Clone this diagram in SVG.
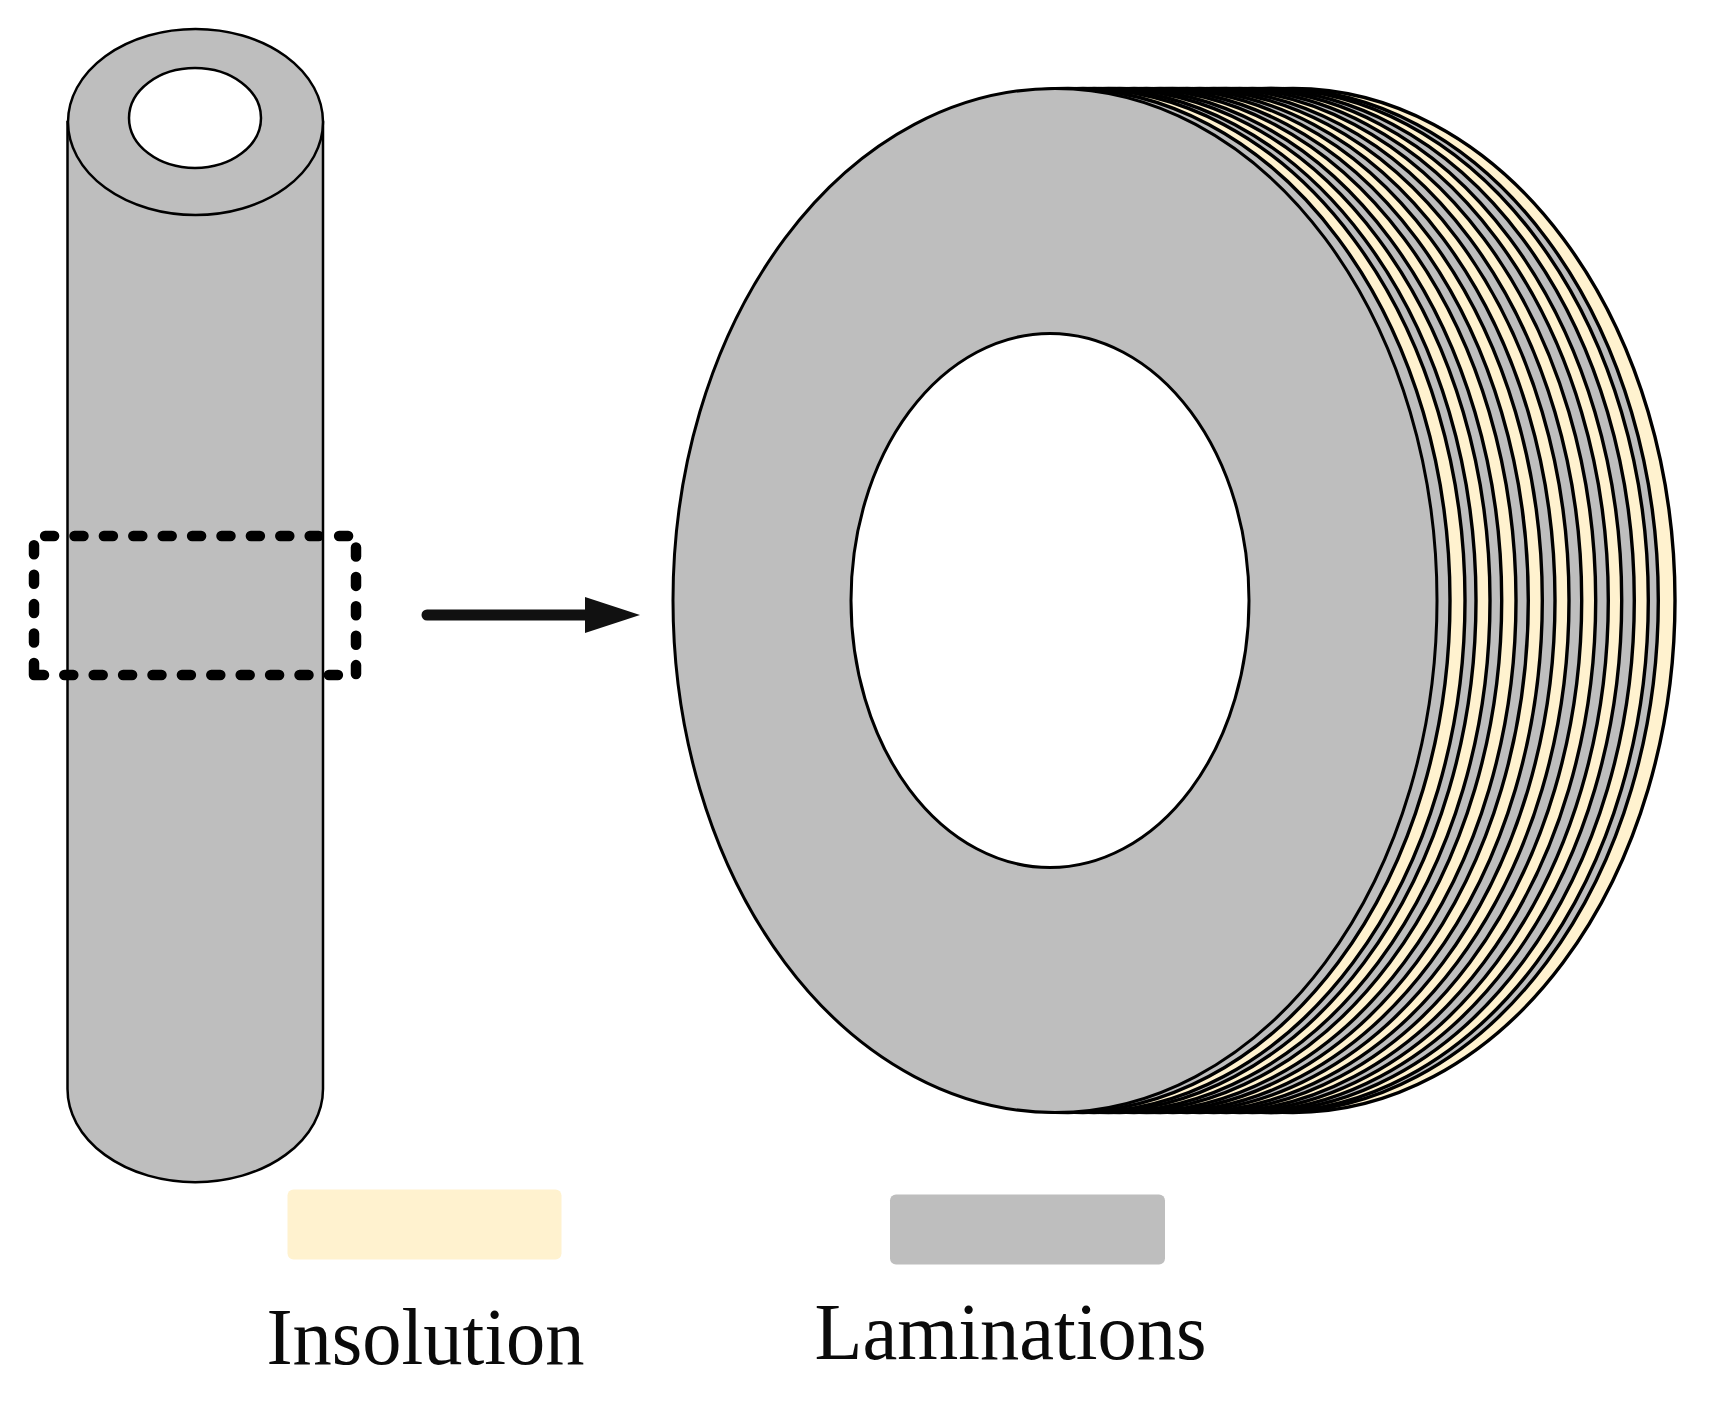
<svg xmlns="http://www.w3.org/2000/svg" width="1728" height="1410" viewBox="0 0 1728 1410">
<style>
.o{stroke:#000;stroke-width:3}
.r{stroke:#000;stroke-width:3.4}
.s{stroke:#000;stroke-width:2.5}
.g{fill:#bebebe}
.c{fill:#fff2cf}
.w{fill:#fff}
.d{fill:none;stroke:#000;stroke-width:10.5;stroke-linecap:round;stroke-dasharray:9 20.4}
.t{font-family:"Liberation Serif","Times New Roman",serif;font-size:80px;fill:#0a0a0a}
</style>
<rect width="1728" height="1410" fill="#fff"/>
<g id="tube">
<path class="s g" d="M67.5 122V1089A127.5 93 0 0 0 323 1089V122Z"/>
<ellipse class="s g" cx="195.5" cy="122" rx="127.5" ry="93"/>
<ellipse class="s w" cx="195" cy="118" rx="66" ry="50"/>
</g>
<g id="selection">
<path fill="none" stroke="#000" stroke-width="10.5" stroke-linecap="round" stroke-linejoin="round" d="M44 675H34V663"/>
<line class="d" x1="34" y1="642.5" x2="34" y2="545.3"/>
<line class="d" x1="45.1" y1="536" x2="348.1" y2="536"/>
<line class="d" x1="356" y1="547.5" x2="356" y2="674.1"/>
<line class="d" x1="64.3" y1="675" x2="337.9" y2="675"/>
</g>
<g id="connectors">
<line x1="427" y1="615" x2="590" y2="615" stroke="#111" stroke-width="11" stroke-linecap="round"/>
<polygon points="585,597 640,615 585,633" fill="#111"/>
</g>
<g id="laminated-disk">
<ellipse class="r c" cx="1293" cy="600.5" rx="382" ry="512"/>
<ellipse class="r g" cx="1276.3" cy="600.5" rx="382" ry="512"/>
<ellipse class="r c" cx="1266.3" cy="600.5" rx="382" ry="512"/>
<ellipse class="r g" cx="1252.3" cy="600.5" rx="382" ry="512"/>
<ellipse class="r c" cx="1239.7" cy="600.5" rx="382" ry="512"/>
<ellipse class="r g" cx="1226.3" cy="600.5" rx="382" ry="512"/>
<ellipse class="r c" cx="1213.7" cy="600.5" rx="382" ry="512"/>
<ellipse class="r g" cx="1199.7" cy="600.5" rx="382" ry="512"/>
<ellipse class="r c" cx="1187" cy="600.5" rx="382" ry="512"/>
<ellipse class="r g" cx="1173" cy="600.5" rx="382" ry="512"/>
<ellipse class="r c" cx="1160.3" cy="600.5" rx="382" ry="512"/>
<ellipse class="r g" cx="1146.3" cy="600.5" rx="382" ry="512"/>
<ellipse class="r c" cx="1134" cy="600.5" rx="382" ry="512"/>
<ellipse class="r g" cx="1119.7" cy="600.5" rx="382" ry="512"/>
<ellipse class="r c" cx="1108" cy="600.5" rx="382" ry="512"/>
<ellipse class="r g" cx="1094" cy="600.5" rx="382" ry="512"/>
<ellipse class="r c" cx="1083" cy="600.5" rx="382" ry="512"/>
<ellipse class="r g" cx="1068" cy="600.5" rx="382" ry="512"/>
<ellipse class="o g" cx="1055" cy="600.5" rx="382" ry="512"/>
<ellipse class="o w" cx="1050" cy="600.5" rx="199" ry="267"/>
</g>
<g id="legend-insulation">
<rect class="c" x="287.5" y="1189.5" width="274" height="70" rx="6"/>
<text class="t" x="266.5" y="1364" textLength="318" lengthAdjust="spacingAndGlyphs">Insolution</text>
</g>
<g id="legend-laminations">
<rect class="g" x="890" y="1194.5" width="275" height="70" rx="6"/>
<text class="t" x="814.5" y="1359" textLength="392" lengthAdjust="spacingAndGlyphs">Laminations</text>
</g>
</svg>
